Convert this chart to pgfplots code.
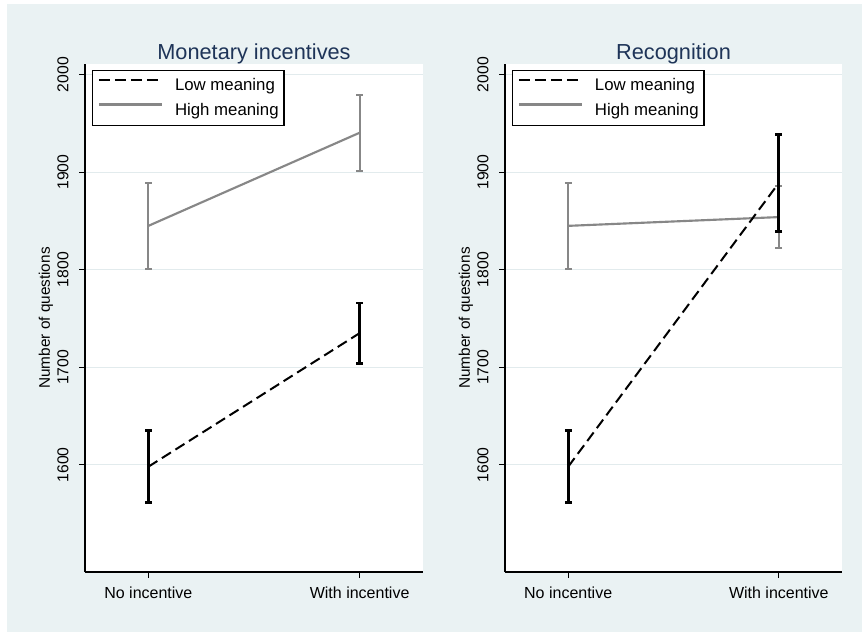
\documentclass[border=0pt]{standalone}
\usepackage{pgfplots}
\pgfplotsset{compat=1.18}
\usepackage{fontspec}
\setmainfont{Liberation Sans}

\definecolor{stbg}{RGB}{234,242,243}
\definecolor{stgrid}{RGB}{226,235,237}
\definecolor{sttitle}{RGB}{30,52,88}
\definecolor{sthigh}{RGB}{135,135,135}

\pgfplotsset{
  panel/.style={
    scale only axis, height=381pt, anchor=south west,
    xmin=-0.3, xmax=1.3, ymin=1490, ymax=2011,
    xtick={0,1}, xticklabels={No incentive,With incentive},
    ytick={1600,1700,1800,1900,2000},
    axis x line=bottom, axis y line=left,
    axis line style={-, line width=0.8pt, black},
    axis background/.style={fill=white},
    tick align=outside, major tick length=4.5pt,
    tick style={black, line width=0.8pt},
    ymajorgrids, major grid style={stgrid, line width=0.8pt},
    /pgf/number format/assume math mode=true,
    /pgf/number format/1000 sep={},
    xticklabel style={font=\fontsize{12}{14}\selectfont, anchor=base},
    xticklabel shift=15pt,
    yticklabel style={font=\fontsize{11.8}{14}\selectfont, rotate=90, anchor=base},
    yticklabel shift=8pt,
    ylabel={Number of questions},
    ylabel style={font=\fontsize{11.5}{14}\selectfont, at={(axis description cs:-0.104,0.5)}, anchor=base},
    title style={font=\fontsize{16.3}{19}\selectfont, color=sttitle, at={(axis description cs:0.5,1)}, anchor=base, yshift=-2.5pt},
    reverse legend,
    legend cell align=left,
    legend image code/.code={\draw[#1] (0pt,4.5pt) -- (47.25pt,4.5pt);},
    legend style={at={(axis description cs:0.0207,0.9882)}, anchor=north west,
      draw=black, line width=0.8pt, fill=white,
      font=\fontsize{12.6}{15}\selectfont,
      inner xsep=4pt, inner ysep=4.25pt, row sep=4.75pt,
      nodes={inner sep=0pt, text height=11pt, text depth=3pt},
      /tikz/every odd column/.style={column sep=9pt}},
  },
  highline/.style={sthigh, line width=1.6pt,
    error bars/.cd, y dir=both, y explicit,
    error bar style={sthigh, line width=1.6pt, solid},
    error mark options={rotate=90, sthigh, line width=1.6pt, mark size=2.5pt}},
  lowline/.style={black, line width=1.5pt, dash pattern=on 8pt off 4pt,
    error bars/.cd, y dir=both, y explicit,
    error bar style={black, line width=2pt, solid},
    error mark options={rotate=90, black, line width=2pt, mark size=2.5pt, solid}},
}

\begin{document}
\begin{tikzpicture}
\useasboundingbox (0,0) rectangle (646.5pt,-474pt);
\fill[white] (0,0) rectangle (646.5pt,-474pt);
\fill[stbg] (5.25pt,-3pt) rectangle (646.5pt,-474pt);

\begin{axis}[panel, at={(63.75pt,-429pt)}, width=253.5pt, title={Monetary incentives}]
\addplot[highline] coordinates {(0,1845) +- (0,44) (1,1940.5) +- (0,39)};
\addlegendentry{High meaning}
\addplot[lowline] coordinates {(0,1598) +- (0,37) (1,1735) +- (0,31)};
\addlegendentry{Low meaning}
\end{axis}

\begin{axis}[panel, at={(378.75pt,-429pt)}, width=252.75pt, title={Recognition}]
\addplot[highline] coordinates {(0,1845) +- (0,44) (1,1854) +- (0,32)};
\addlegendentry{High meaning}
\addplot[lowline] coordinates {(0,1598) +- (0,37) (1,1889) +- (0,50)};
\addlegendentry{Low meaning}
\end{axis}
\end{tikzpicture}
\end{document}
